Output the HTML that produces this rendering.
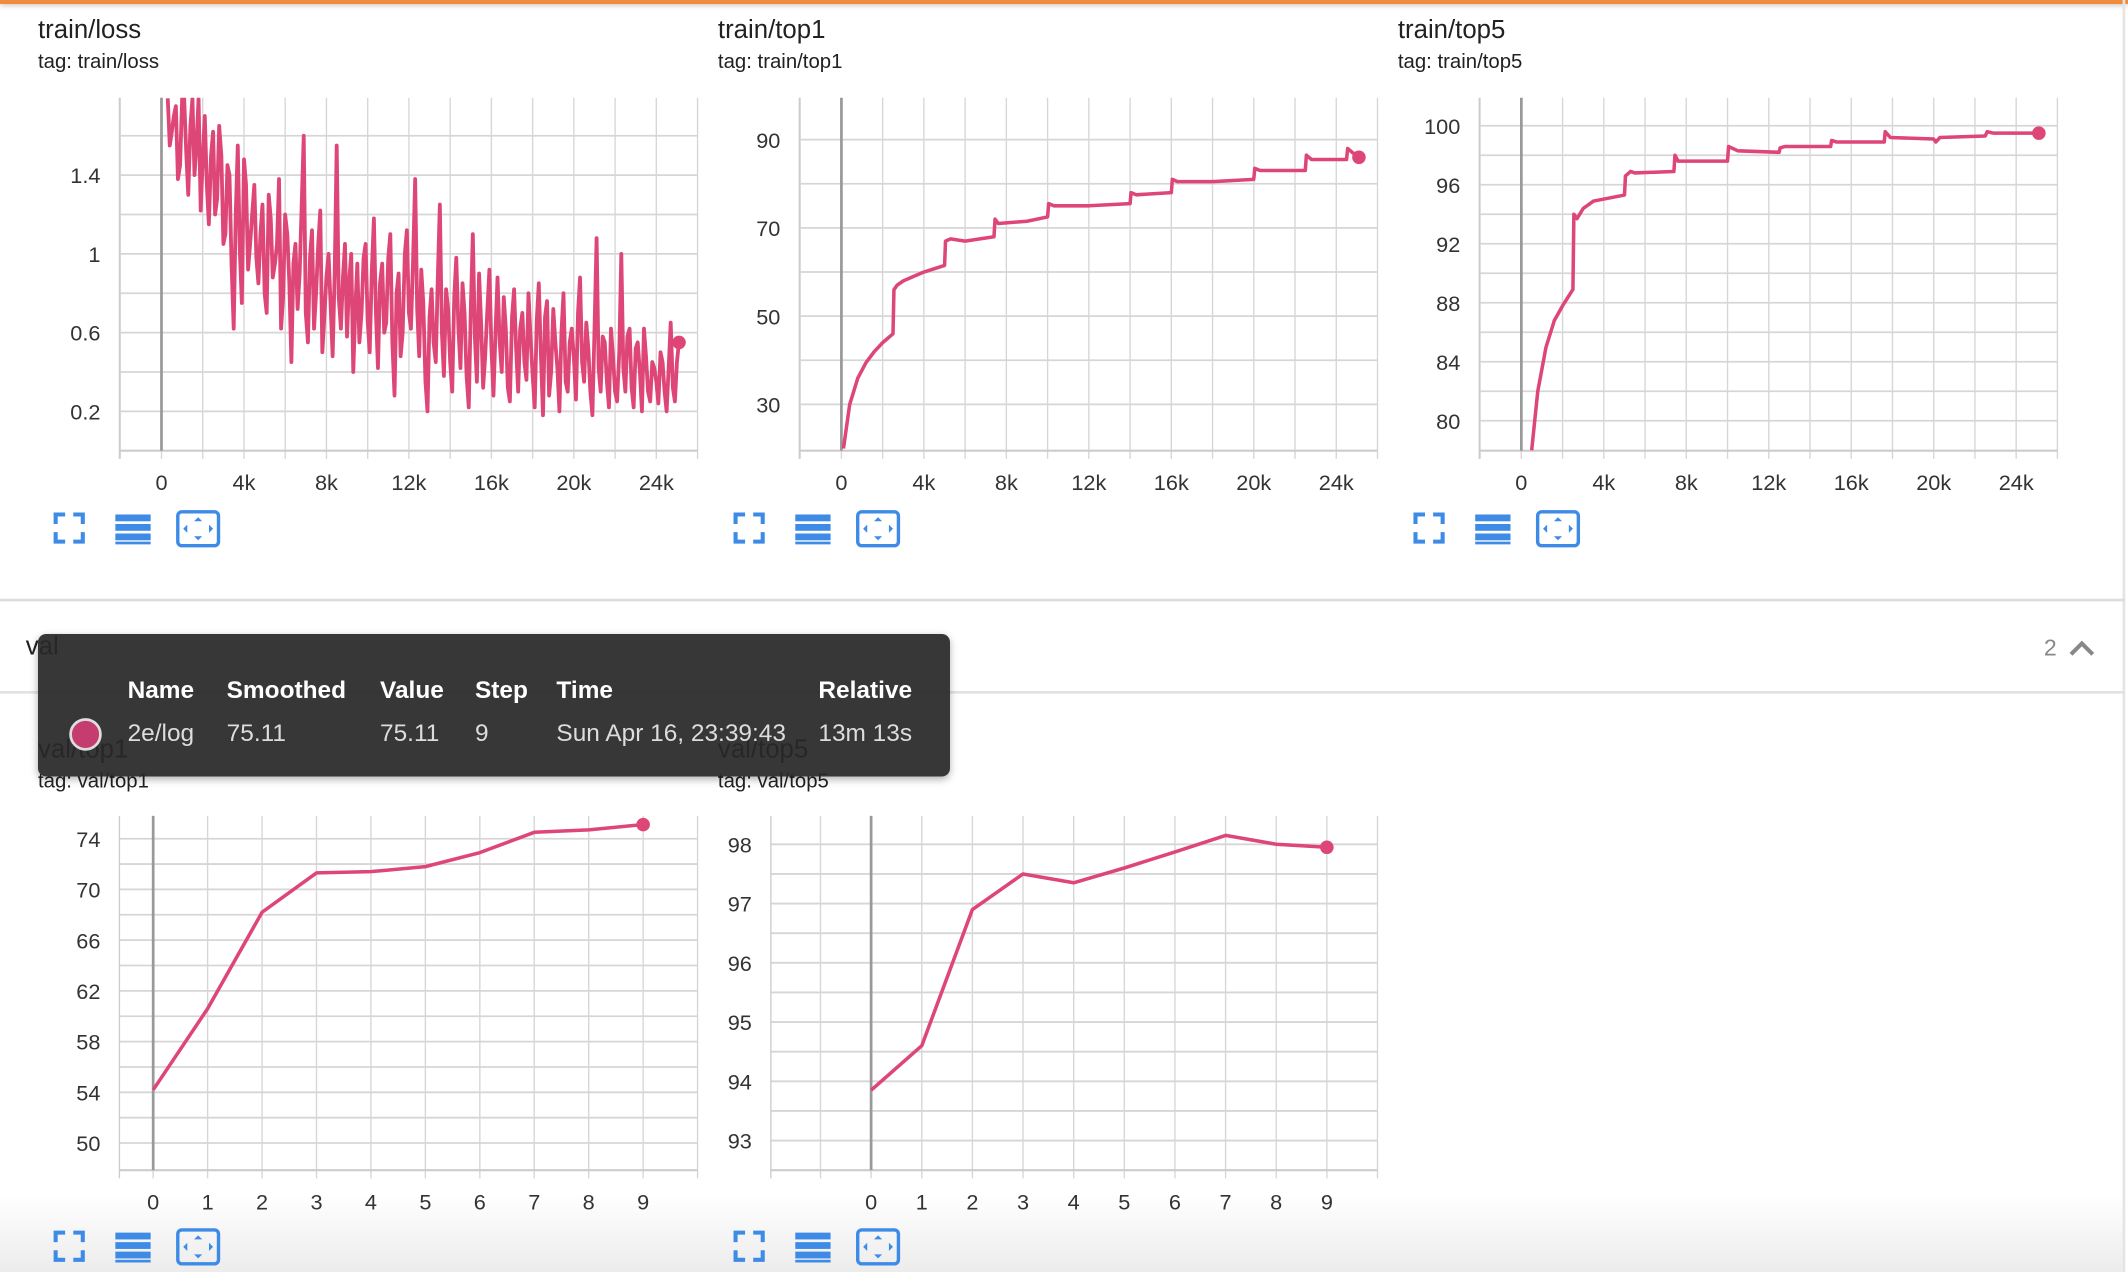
<!DOCTYPE html>
<html><head><meta charset="utf-8">
<style>
html,body{margin:0;padding:0;background:#fff;overflow:hidden;}
body{width:2128px;height:1272px;position:relative;font-family:"Liberation Sans",sans-serif;}
#stage{position:absolute;left:0;top:0;width:1568px;height:937px;transform-origin:0 0;transform:scale(1.35714,1.35752);}
.t{position:absolute;color:#212121;white-space:nowrap;}
.title{font-size:19px;}
.tag{font-size:15px;}
svg text{font-family:"Liberation Sans",sans-serif;}
.ico{position:absolute;}
</style></head><body>
<div id="stage">
<div style="position:absolute;left:0;top:0;width:1568px;height:3px;background:#f08a3c;box-shadow:0 1px 4px rgba(0,0,0,0.25)"></div>
<div style="position:absolute;left:1564px;top:0;width:2px;height:937px;background:#e4e4e4"></div>
<div style="position:absolute;left:0;top:441px;width:1566px;height:2px;background:#ddd"></div>
<div style="position:absolute;left:0;top:509px;width:1566px;height:2px;background:#e2e2e2"></div>
<div style="position:absolute;left:0;top:880px;width:1564px;height:57px;background:linear-gradient(#fff,#ececec)"></div>

<div class="t title" style="left:28px;top:12px">train/loss</div>
<div class="t tag" style="left:28px;top:37px">tag: train/loss</div>
<div class="t title" style="left:529px;top:12px">train/top1</div>
<div class="t tag" style="left:529px;top:37px">tag: train/top1</div>
<div class="t title" style="left:1030px;top:12px">train/top5</div>
<div class="t tag" style="left:1030px;top:37px">tag: train/top5</div>

<div class="t title" style="left:19px;top:466px">val</div>
<div class="t" style="left:1506px;top:468px;font-size:17px;color:#888">2</div>
<svg class="ico" style="left:1524px;top:470px" width="20" height="16"><path d="M2 12 L10 4 L18 12" fill="none" stroke="#888" stroke-width="3"/></svg>

<div class="t title" style="left:28px;top:542px">val/top1</div>
<div class="t tag" style="left:28px;top:567px">tag: val/top1</div>
<div class="t title" style="left:529px;top:542px">val/top5</div>
<div class="t tag" style="left:529px;top:567px">tag: val/top5</div>

<svg id="chart" style="position:absolute;left:0;top:0" width="1568" height="937"></svg>

<div style="position:absolute;left:28px;top:467px;width:672px;height:105px;border-radius:6px;background:rgba(40,40,40,0.93);box-shadow:0 2px 6px rgba(0,0,0,0.3);color:#fff;font-size:18px">
<div style="position:absolute;top:31px;left:66px;font-weight:bold">Name</div>
<div style="position:absolute;top:31px;left:139px;font-weight:bold">Smoothed</div>
<div style="position:absolute;top:31px;left:252px;font-weight:bold">Value</div>
<div style="position:absolute;top:31px;left:322px;font-weight:bold">Step</div>
<div style="position:absolute;top:31px;left:382px;font-weight:bold">Time</div>
<div style="position:absolute;top:31px;left:575px;font-weight:bold">Relative</div>
<div style="position:absolute;top:62px;left:23px;width:20px;height:20px;border-radius:50%;background:#c43d6e;border:2px solid #ddd"></div>
<div style="position:absolute;top:63px;left:66px;color:#ddd">2e/log</div>
<div style="position:absolute;top:63px;left:139px;color:#ddd">75.11</div>
<div style="position:absolute;top:63px;left:252px;color:#ddd">75.11</div>
<div style="position:absolute;top:63px;left:322px;color:#ddd">9</div>
<div style="position:absolute;top:63px;left:382px;color:#ddd">Sun Apr 16, 23:39:43</div>
<div style="position:absolute;top:63px;left:575px;color:#ddd">13m 13s</div>
</div>
</div>
<script>
// ---- data ----
const lossStart = 300, lossStepSize = 200;
const lossValues = [1.79,1.62,1.75,1.45,1.79,1.30,1.79,1.55,1.22,1.70,
1.15,1.62,1.28,1.50,1.10,1.40,0.62,1.55,0.75,1.35,
1.05,1.35,0.85,1.25,0.70,1.18,0.95,1.38,0.78,1.10,
0.45,1.05,0.90,1.60,0.55,1.12,0.80,1.22,0.68,1.00,
0.48,1.55,0.62,1.05,0.85,0.40,0.95,0.70,1.05,0.50,
1.18,0.42,0.95,0.65,1.10,0.28,0.90,0.60,1.12,0.62,
1.38,0.48,0.75,0.20,0.82,0.45,1.25,0.38,0.72,0.30,
0.98,0.42,0.70,0.22,1.10,0.35,0.65,0.48,0.92,0.28,
0.88,0.40,0.62,0.25,0.82,0.30,0.70,0.36,0.58,0.22,
0.85,0.18,0.76,0.40,0.55,0.20,0.80,0.30,0.62,0.26,
0.88,0.35,0.52,0.18,1.08,0.30,0.55,0.22,0.48,0.25,
1.00,0.30,0.62,0.22,0.55,0.20,0.48,0.25,0.42,0.24,
0.45,0.20,0.65,0.25,0.55];
// intermediate readings between the points above
const lossValuesMid = [1.55,1.70,1.38,1.79,1.52,1.65,1.40,1.79,1.48,1.35,
1.50,1.20,1.65,1.05,1.45,0.95,1.20,1.02,1.48,0.92,
1.20,0.98,1.10,0.80,1.30,0.88,1.05,0.62,1.20,0.85,
0.95,0.72,1.25,0.70,0.98,0.62,1.05,0.50,0.88,0.74,
0.90,0.78,0.88,0.58,1.00,0.72,0.55,0.98,0.66,0.92,
0.70,0.85,0.60,0.98,0.55,0.80,0.48,1.00,0.70,0.95,
0.72,0.92,0.35,0.68,0.55,0.88,0.60,0.82,0.45,0.78,
0.62,0.85,0.38,0.72,0.58,0.90,0.32,0.70,0.52,0.60,
0.55,0.78,0.32,0.68,0.52,0.62,0.45,0.80,0.38,0.66,
0.50,0.68,0.28,0.72,0.42,0.60,0.35,0.55,0.48,0.70,
0.45,0.65,0.30,0.60,0.42,0.58,0.35,0.62,0.30,0.50,
0.42,0.58,0.32,0.52,0.40,0.62,0.30,0.45,0.35,0.50,
0.30,0.42,0.32,0.45];
const top1Steps = [100,400,800,1200,1600,2000,2500,2550,2700,3000,3500,4000,5000,5050,5300,6000,7400,7450,7600,9000,10000,10050,10300,12000,14000,14050,14300,16000,16050,16300,18000,20000,20050,20300,22500,22550,22800,24500,24550,24800,25100];
const top1Values = [20,30,36,39.5,42,44,46,56,57,58,59,60,61.5,67,67.5,67,68,72,71,71.5,72.5,75.5,75,75,75.5,78,77.5,78,81,80.5,80.5,81,83.5,83,83,86.5,85.5,85.5,88,87,86];
const top5Steps = [500,800,1200,1600,2000,2500,2550,2700,3000,3500,5000,5050,5300,5500,7400,7450,7600,10000,10050,10500,12500,12550,12800,15000,15050,15300,17600,17650,17900,20000,20100,20300,22500,22600,22900,25100];
const top5Values = [78,82,85,86.8,87.8,88.9,94,93.7,94.4,94.9,95.3,96.6,96.9,96.8,96.9,98,97.6,97.6,98.6,98.3,98.2,98.5,98.6,98.6,99.0,98.9,98.9,99.6,99.2,99.1,98.9,99.2,99.3,99.6,99.5,99.5];
const valSteps = [0,1,2,3,4,5,6,7,8,9];
const valTop1 = [54.2,60.6,68.2,71.3,71.4,71.8,72.9,74.5,74.7,75.11];
const valTop5 = [93.85,94.6,96.9,97.5,97.35,97.6,97.87,98.15,98.0,97.95];
const kTicks = [0,4000,8000,12000,16000,20000,24000];
const kTickLabels = ['0','4k','8k','12k','16k','20k','24k'];
const lossYTicks = [0.2,0.6,1,1.4];
const top1YTicks = [30,50,70,90];
const top5YTicks = [80,84,88,92,96,100];
const vTop1YTicks = [50,54,58,62,66,70,74];
const vTop5YTicks = [93,94,95,96,97,98];

// merge main + intermediate readings
const lossSteps = [], lossAll = [];
lossValues.forEach((v,i)=>{
  lossSteps.push(lossStart+i*lossStepSize); lossAll.push(v);
  if(i<lossValuesMid.length){lossSteps.push(lossStart+i*lossStepSize+lossStepSize/2); lossAll.push(lossValuesMid[i]);}
});
const NS='http://www.w3.org/2000/svg';
const svg=document.getElementById('chart');
function mk(tag,attrs,parent){const e=document.createElementNS(NS,tag);for(const k in attrs)e.setAttribute(k,attrs[k]);(parent||svg).appendChild(e);return e;}
const PINK='#dd4677';

function drawChart(c){
  const g=mk('g',{});
  
  
  const sx=v=>c.x0+(v-c.xd[0])/(c.xd[1]-c.xd[0])*(c.x1-c.x0);
  const sy=v=>c.y1-(v-c.yd[0])/(c.yd[1]-c.yd[0])*(c.y1-c.y0);
  for(let v=c.xg0; v<=c.xd[1]+1e-9; v+=c.xgs){const x=sx(v);
    mk('line',{x1:x,x2:x,y1:c.y0,y2:c.y1+6,stroke:'#d6d6d6','stroke-width':1},g);}
  for(let v=c.yg0; v<=c.yd[1]+1e-9; v+=c.ygs){const y=sy(v);
    mk('line',{x1:c.x0,x2:c.x1,y1:y,y2:y,stroke:'#d6d6d6','stroke-width':1.3},g);}
  mk('line',{x1:c.x0,x2:c.x0,y1:c.y0,y2:c.y1+6,stroke:'#ccc','stroke-width':1},g);
  mk('line',{x1:c.x0,x2:c.x1,y1:c.y1,y2:c.y1,stroke:'#ccc','stroke-width':1.5},g);
  const zx=sx(0);
  mk('line',{x1:zx,x2:zx,y1:c.y0,y2:c.y1,stroke:'#999','stroke-width':2},g);
  c.xt.forEach((v,i)=>{const t=mk('text',{x:sx(v),y:c.y1+29,'text-anchor':'middle','font-size':16,fill:'#333'},g);t.textContent=c.xl[i];
    
    });
  c.yt.forEach(v=>{const t=mk('text',{x:c.x0-14,y:sy(v)+6,'text-anchor':'end','font-size':16,fill:'#333'},g);t.textContent=String(v);
    
    });
  const cid='clip'+c.name;
  const cp=mk('clipPath',{id:cid},g);mk('rect',{x:c.x0,y:c.y0,width:c.x1-c.x0,height:c.y1-c.y0},cp);
  const d=c.xs.map((x,i)=>(i?'L':'M')+sx(x).toFixed(1)+' '+sy(Math.min(c.ys[i],c.yd[1]-0.001)).toFixed(1)).join(' ');
  const p=mk('path',{d:d,fill:'none',stroke:PINK,'stroke-width':c.sw||2.6,'stroke-linejoin':'round','clip-path':'url(#'+cid+')'},g);
  
  
  const n=c.xs.length-1;
  const dot=mk('circle',{cx:sx(c.xs[n]),cy:sy(c.ys[n]),r:5,fill:PINK},g);
  
  
}
drawChart({name:'train-loss-chart',x0:88,x1:514,y0:72,y1:332,xd:[-2040,26000],yd:[0,1.793],xg0:-2000,xgs:2000,yg0:0.2,ygs:0.2,xt:kTicks,xl:kTickLabels,yt:lossYTicks,xs:lossSteps,ys:lossAll,sw:2.8});
drawChart({name:'train-top1-chart',x0:589,x1:1015,y0:72,y1:332,xd:[-2040,26000],yd:[19.5,99.5],xg0:-2000,xgs:2000,yg0:30,ygs:10,xt:kTicks,xl:kTickLabels,yt:top1YTicks,xs:top1Steps,ys:top1Values});
drawChart({name:'train-top5-chart',x0:1090,x1:1516,y0:72,y1:332,xd:[-2040,26000],yd:[77.97,101.9],xg0:-2000,xgs:2000,yg0:80,ygs:2,xt:kTicks,xl:kTickLabels,yt:top5YTicks,xs:top5Steps,ys:top5Values});
drawChart({name:'val-top1-chart',x0:88,x1:514,y0:601,y1:862,xd:[-0.62,10],yd:[47.86,75.8],xg0:0,xgs:1,yg0:50,ygs:2,xt:valSteps,xl:valSteps.map(String),yt:vTop1YTicks,xs:valSteps,ys:valTop1});
drawChart({name:'val-top5-chart',x0:568,x1:1015,y0:601,y1:862,xd:[-1.98,10],yd:[92.5,98.48],xg0:-1,xgs:1,yg0:93,ygs:0.5,xt:valSteps,xl:valSteps.map(String),yt:vTop5YTicks,xs:valSteps,ys:valTop5});

const iconRows=[[41,379],[542,379],[1043,379],[41,908],[542,908]];
const B='#3d8be6';
iconRows.forEach(([x,y])=>{
  const f=mk('g',{});
  
  
  mk('path',{d:`M${x} ${y+7}V${y}h7 M${x+13} ${y}h7v7 M${x+20} ${y+13}v7h-7 M${x+7} ${y+20}h-7v-7`,fill:'none',stroke:B,'stroke-width':3},f);
  const l=mk('g',{});
  
  
  [0,7,14,20].forEach((o,i)=>mk('rect',{x:x+44,y:y+o,width:26,height:i==3?2:5,fill:B},l));
  const r=mk('g',{});
  
  
  mk('rect',{x:x+90,y:y-2,width:30,height:25,rx:3,fill:'none',stroke:B,'stroke-width':2.5},r);
  mk('path',{d:`M${x+105} ${y+2}l3 3h-6z M${x+105} ${y+19}l3 -3h-6z M${x+94} ${y+10.5}l3 -3v6z M${x+116} ${y+10.5}l-3 -3v6z`,fill:B},r);
});
</script>
</body></html>
